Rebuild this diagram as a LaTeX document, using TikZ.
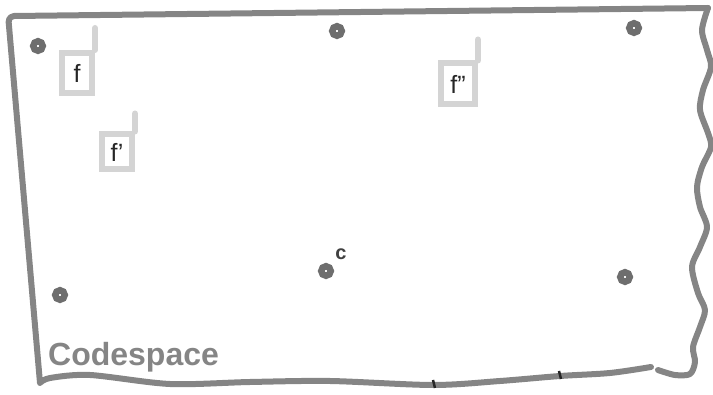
\documentclass[tikz,border=0pt]{standalone}
\usepackage{fontspec}
\setmainfont{Liberation Sans}
\definecolor{framegray}{HTML}{858585}
\definecolor{boxgray}{HTML}{D4D4D4}
\definecolor{dotgray}{HTML}{6E6E6E}
\begin{document}
\begin{tikzpicture}[x=1pt,y=-1pt,
  frameline/.style={draw=framegray,line width=6pt,line cap=round,line join=round},
  pt/.style={circle,draw=dotgray,line width=6.5pt,inner sep=0pt,minimum size=9.5pt},
  fbox/.style={draw=boxgray,line width=6pt,minimum width=28pt,minimum height=36pt,inner sep=0pt,font=\fontsize{25}{25}\selectfont,text=black!85},
  stick/.style={draw=boxgray,line width=6pt,line cap=round},
  tick/.style={draw=black!85,line width=2.5pt}]
\useasboundingbox (0,0) rectangle (713,395);
% frame
\draw[frameline] (708,8) -- (14,16) .. controls (9,17) and (8,20) .. (9,26) -- (40,383)
  plot[smooth] coordinates {(40,383) (50,378) (90,375) (170,384) (250,382) (330,381) (433,385) (500,381) (560,376) (610,373) (651,367)};
\draw[frameline] plot[smooth] coordinates {(708,8) (702,30) (707,50) (711,67) (703,90) (700,110) (708,133) (711,147) (702,167) (697,187) (700,207) (707,227) (700,247) (692,267) (698,293) (705,310) (700,327) (693,347) (695,362) (690,374) (675,375) (658,370)};
\draw[tick] (433,380) -- (435,388);
\draw[tick] (559,371) -- (561,379);
% points
\node[pt] (p1) at (38,46) {};
\node[pt] (p2) at (337,31) {};
\node[pt] (p3) at (634,28) {};
\node[pt] (p4) at (60,295) {};
\node[pt] (p5) at (326,271) {};
\node[pt] (p6) at (625,277) {};
\node[font=\fontsize{20}{20}\selectfont\bfseries,text=black!75] (c) at (341,254) {c};
% boxes
\node[fbox,minimum width=30pt,minimum height=40pt] (f1) at (77,73) {f};
\draw[stick] (f1.north east) -- ++(0,-22) coordinate (s1);
\node[fbox,minimum width=30pt,minimum height=35pt] (f2) at (117,152) {f'};
\draw[stick] (f2.north east) -- ++(0,-18) coordinate (s2);
\node[fbox,minimum width=34pt,minimum height=41pt] (f3) at (458,84) {f''};
\draw[stick] (f3.north east) -- ++(0,-21) coordinate (s3);
% label
\node[anchor=base west,font=\fontsize{32}{32}\selectfont\bfseries,text=framegray,inner sep=0pt] (cs) at (48,366) {Codespace};
\end{tikzpicture}
\end{document}
